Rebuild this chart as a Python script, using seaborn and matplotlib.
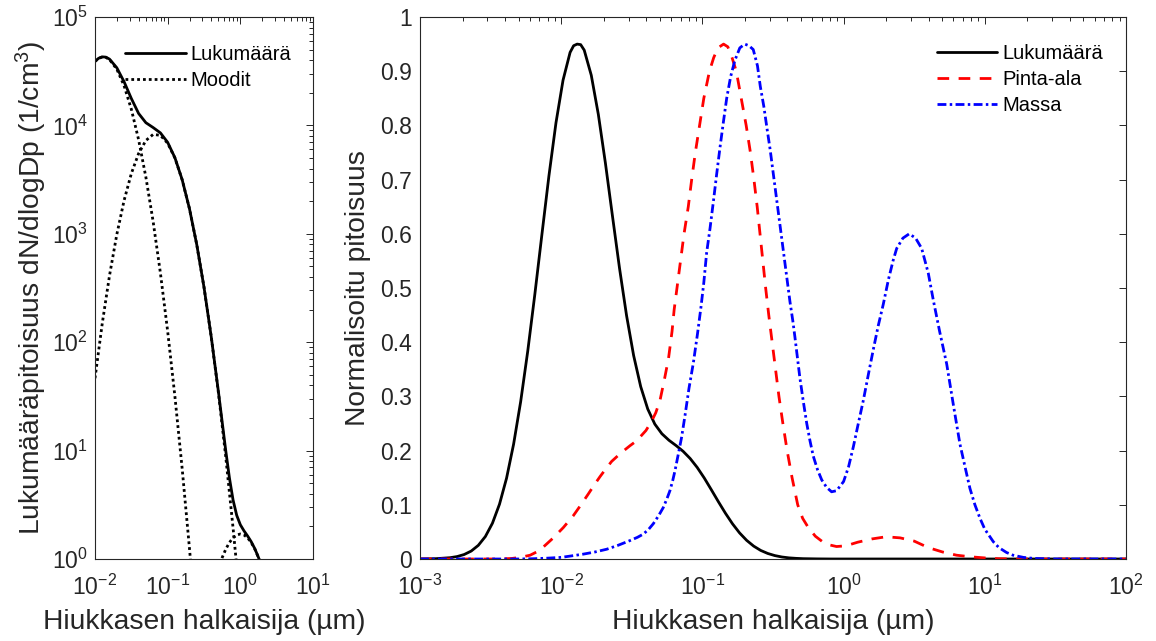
import numpy as np
import pandas as pd
import matplotlib
matplotlib.use("Agg")
import matplotlib.pyplot as plt
import seaborn as sns
from matplotlib.ticker import LogLocator, NullFormatter, FuncFormatter, MultipleLocator
from matplotlib.lines import Line2D

# ---------------- data ----------------
# Left panel: number size distribution dN/dlogDp (1/cm^3) vs log10(Dp / um)
tot_logdp = [-2.0, -1.95, -1.9, -1.85, -1.8, -1.7, -1.6, -1.5, -1.4, -1.3, -1.2, -1.1,
             -1.0, -0.9, -0.8, -0.7, -0.6, -0.5, -0.4, -0.3, -0.25, -0.2, -0.15, -0.1,
             -0.05, 0.0, 0.05, 0.1, 0.15, 0.2, 0.25, 0.3, 0.35]
tot_conc = [3.899e4, 4.163e4, 4.29e4, 4.262e4, 4.087e4, 3.402e4, 2.528e4, 1.771e4,
            1.289e4, 1.059e4, 9554, 8533, 6975, 5027, 3150, 1705, 797, 321.5, 111.7,
            34.3, 18.39, 9.9, 5.59, 3.5, 2.53, 2.07, 1.82, 1.63, 1.443, 1.242,
            1.032, 0.827, 0.636]

m1_logdp = [-2.0, -1.95, -1.9, -1.85, -1.8, -1.7, -1.6, -1.5, -1.4, -1.3, -1.2, -1.1,
            -1.0, -0.9, -0.8, -0.7, -0.65]
m1_conc = [3.894e4, 4.155e4, 4.275e4, 4.237e4, 4.046e4, 3.303e4, 2.325e4, 1.411e4,
           7386, 3333, 1298, 435.3, 126.0, 31.44, 6.77, 1.254, 0.511]

m2_logdp = [-2.0, -1.9, -1.8, -1.7, -1.6, -1.5, -1.4, -1.3, -1.2, -1.1, -1.0, -0.9,
            -0.8, -0.7, -0.6, -0.5, -0.4, -0.3, -0.2, -0.1, -0.05]
m2_conc = [46.5, 149.2, 412.9, 985.1, 2027, 3596, 5502, 7257, 8256, 8098, 6849, 4996,
           3143, 1704, 797, 321.5, 111.7, 33.5, 8.67, 1.93, 0.863]

m3_logdp = [-0.35, -0.3, -0.25, -0.2, -0.15, -0.1, -0.05, 0.0, 0.05, 0.1, 0.15, 0.2,
            0.25, 0.3, 0.35]
m3_conc = [0.636, 0.826, 1.029, 1.233, 1.419, 1.569, 1.666, 1.70, 1.666, 1.569, 1.419,
           1.233, 1.029, 0.826, 0.636]

# Right panel: normalised distributions vs log10(Dp / um)
num_logdp = [-3.0, -2.887, -2.787, -2.737, -2.687, -2.637, -2.587, -2.537, -2.487,
             -2.437, -2.387, -2.337, -2.287, -2.237, -2.187, -2.137, -2.087, -2.037,
             -1.987, -1.937, -1.912, -1.887, -1.862, -1.837, -1.787, -1.737, -1.687,
             -1.637, -1.587, -1.537, -1.487, -1.437, -1.387, -1.337, -1.287, -1.237,
             -1.187, -1.137, -1.087, -1.037, -0.987, -0.937, -0.887, -0.837, -0.787,
             -0.737, -0.687, -0.637, -0.587, -0.537, -0.487, -0.437, -0.387, -0.337,
             -0.287, -0.187, -0.087, 0.5, 1.0, 2.0]
num_norm = [0.0001, 0.0006, 0.0024, 0.0045, 0.0083, 0.0147, 0.0252, 0.0415, 0.066,
            0.1011, 0.1491, 0.212, 0.2904, 0.3834, 0.4877, 0.5979, 0.7067, 0.8048,
            0.8834, 0.9347, 0.947, 0.95, 0.949, 0.9389, 0.8925, 0.8203, 0.7306,
            0.6329, 0.5365, 0.449, 0.3754, 0.3181, 0.2767, 0.2489, 0.2311, 0.2191,
            0.2094, 0.1988, 0.1855, 0.169, 0.1495, 0.1279, 0.1058, 0.0845, 0.065,
            0.0482, 0.0345, 0.0238, 0.0158, 0.0102, 0.0063, 0.0037, 0.0021, 0.0012,
            0.0006, 0.0002, 0.0, 0.0, 0.0, 0.0]

surf_logdp = [-3.0, -2.45, -2.35, -2.29, -2.22, -2.174, -2.127, -2.06, -1.985, -1.914,
              -1.86, -1.808, -1.765, -1.725, -1.685, -1.643, -1.58, -1.513, -1.466,
              -1.40, -1.36, -1.33, -1.30, -1.27, -1.24, -1.215, -1.20, -1.175, -1.15,
              -1.13, -1.10, -1.076, -1.05, -1.02, -0.99, -0.95, -0.92, -0.89, -0.85,
              -0.82, -0.79, -0.76, -0.725, -0.69, -0.66, -0.635, -0.612, -0.592,
              -0.572, -0.552, -0.53, -0.506, -0.482, -0.458, -0.43, -0.40, -0.365,
              -0.325, -0.29, -0.25, -0.20, -0.15, -0.10, -0.05, 0.0, 0.05, 0.1, 0.2,
              0.3, 0.4, 0.5, 0.6, 0.7, 0.8, 0.9, 1.0, 1.1, 1.2, 2.0]
surf_norm = [0.0, 0.0, 0.001, 0.003, 0.007, 0.013, 0.022, 0.038, 0.058, 0.08, 0.10,
             0.12, 0.137, 0.152, 0.166, 0.18, 0.195, 0.209, 0.218, 0.237, 0.254, 0.27,
             0.293, 0.33, 0.37, 0.42, 0.46, 0.51, 0.56, 0.60, 0.65, 0.70, 0.75, 0.80,
             0.85, 0.90, 0.925, 0.943, 0.95, 0.945, 0.925, 0.90, 0.85, 0.80, 0.75,
             0.70, 0.65, 0.60, 0.55, 0.50, 0.45, 0.40, 0.35, 0.30, 0.25, 0.20, 0.15,
             0.10, 0.075, 0.058, 0.042, 0.032, 0.026, 0.023, 0.024, 0.027, 0.031,
             0.037, 0.041, 0.039, 0.033, 0.021, 0.013, 0.007, 0.004, 0.002, 0.0005,
             0.0, 0.0]

mass_logdp = [-3.0, -2.6, -2.3, -2.2, -2.1, -2.0, -1.92, -1.843, -1.76, -1.678, -1.6,
              -1.513, -1.46, -1.418, -1.38, -1.348, -1.31, -1.277, -1.25, -1.23, -1.21,
              -1.194, -1.171, -1.147, -1.123, -1.095, -1.064, -1.035, -1.01, -0.99,
              -0.97, -0.946, -0.922, -0.899, -0.875, -0.852, -0.828, -0.80, -0.77,
              -0.735, -0.70, -0.67, -0.64, -0.61, -0.59, -0.565, -0.54, -0.52, -0.50,
              -0.475, -0.45, -0.425, -0.40, -0.38, -0.36, -0.345, -0.31, -0.285,
              -0.261, -0.238, -0.215, -0.185, -0.155, -0.12, -0.085, -0.05, -0.02,
              0.0, 0.035, 0.069, 0.10, 0.14, 0.175, 0.21, 0.245, 0.281, 0.317, 0.35,
              0.376, 0.42, 0.465, 0.51, 0.553, 0.60, 0.635, 0.68, 0.73, 0.777, 0.824,
              0.86, 0.895, 0.93, 0.966, 1.0, 1.06, 1.1, 1.154, 1.2, 1.273, 1.35, 1.5,
              2.0]
mass_norm = [0.0, 0.0, 0.0, 0.0005, 0.0015, 0.003, 0.006, 0.009, 0.013, 0.018, 0.025,
             0.034, 0.04, 0.046, 0.055, 0.065, 0.08, 0.095, 0.112, 0.126, 0.145, 0.163,
             0.193, 0.225, 0.265, 0.315, 0.362, 0.415, 0.465, 0.51, 0.565, 0.61, 0.66,
             0.71, 0.76, 0.805, 0.85, 0.89, 0.92, 0.943, 0.95, 0.947, 0.94, 0.91,
             0.872, 0.835, 0.79, 0.755, 0.715, 0.665, 0.615, 0.565, 0.515, 0.475,
             0.44, 0.41, 0.335, 0.29, 0.25, 0.218, 0.19, 0.165, 0.146, 0.132, 0.124,
             0.126, 0.136, 0.143, 0.17, 0.207, 0.245, 0.293, 0.34, 0.386, 0.43, 0.47,
             0.515, 0.55, 0.573, 0.592, 0.60, 0.592, 0.573, 0.527, 0.478, 0.42, 0.36,
             0.285, 0.212, 0.17, 0.13, 0.10, 0.075, 0.055, 0.032, 0.021, 0.012, 0.007,
             0.003, 0.001, 0.0, 0.0]

left_legend = ["Lukumäärä", "Moodit"]
right_legend = ["Lukumäärä", "Pinta-ala", "Massa"]
xlabel = "Hiukkasen halkaisija (µm)"
ylabel_left = "Lukumääräpitoisuus dN/dlogDp (1/cm$^3$)"
ylabel_right = "Normalisoitu pitoisuus"

# ---------------- style ----------------
sns.set_theme(style="white")
plt.rcParams['font.family'] = ['Liberation Sans', 'DejaVu Sans']
plt.rcParams['mathtext.fontset'] = 'custom'
plt.rcParams['mathtext.rm'] = 'Liberation Sans'
plt.rcParams['mathtext.it'] = 'Liberation Sans:italic'
plt.rcParams['mathtext.bf'] = 'Liberation Sans:bold'
plt.rcParams['axes.unicode_minus'] = False

AX = '#262626'
TICK_FS = 16.5
LAB_FS = 20.3
LEG_FS = 14.5
LW = 2.0
DOT = (1.0, 1.1)
DASH = (4.2, 3.4)
DASHDOT = (3.2, 1.2, 0.9, 1.2)

fig = plt.figure(figsize=(11.56, 6.41), dpi=100)
axL = fig.add_axes([95/1156, 1-559/641, 218/1156, 542/641])
axR = fig.add_axes([420/1156, 1-559/641, 706/1156, 542/641])


def d(logs):
    return 10.0 ** np.asarray(logs, dtype=float)


def line(ax, x, y, color, dashes=None):
    sns.lineplot(x=x, y=y, ax=ax, color=color, linewidth=LW, estimator=None,
                 sort=False, legend=False)
    ln = ax.lines[-1]
    if dashes is not None:
        ln.set_dashes(dashes)
    ln.set_dash_capstyle('butt')
    return ln


# Left panel
line(axL, d(tot_logdp), tot_conc, 'black')
line(axL, d(m1_logdp), m1_conc, 'black', dashes=DOT)
line(axL, d(m2_logdp), m2_conc, 'black', dashes=DOT)
line(axL, d(m3_logdp), m3_conc, 'black', dashes=DOT)
axL.set_xscale('log')
axL.set_yscale('log')
axL.set_xlim(1e-2, 1e1)
axL.set_ylim(1e0, 1e5)

# Right panel
line(axR, d(num_logdp), num_norm, 'black')
line(axR, d(surf_logdp), surf_norm, '#ff0000', dashes=DASH)
line(axR, d(mass_logdp), mass_norm, '#0000ff', dashes=DASHDOT)
axR.set_xscale('log')
axR.set_xlim(1e-3, 1e2)
axR.set_ylim(0, 1)
axR.yaxis.set_major_locator(MultipleLocator(0.1))
axR.yaxis.set_major_formatter(FuncFormatter(
    lambda v, p: "0" if abs(v) < 1e-9 else f"{v:.1f}".rstrip('0').rstrip('.')))

for ax in (axL, axR):
    ax.set_facecolor('white')
    for s in ax.spines.values():
        s.set_color(AX)
        s.set_linewidth(0.8)
        s.set_visible(True)
    ax.tick_params(which='both', direction='in', top=True, right=True,
                   colors=AX, labelcolor=AX, width=0.7)
    ax.tick_params(which='major', length=5, labelsize=TICK_FS)
    ax.tick_params(which='minor', length=3)
    ax.tick_params(axis='x', pad=11)
    ax.xaxis.set_major_locator(LogLocator(base=10, numticks=20))
    ax.xaxis.set_minor_locator(LogLocator(base=10, subs=np.arange(2, 10), numticks=20))
    ax.xaxis.set_minor_formatter(NullFormatter())
    ax.set_xlabel(xlabel, fontsize=LAB_FS, color=AX, labelpad=7)
    ax.grid(False)

axL.yaxis.set_major_locator(LogLocator(base=10, numticks=20))
axL.yaxis.set_minor_locator(LogLocator(base=10, subs=np.arange(2, 10), numticks=20))
axL.yaxis.set_minor_formatter(NullFormatter())
axL.tick_params(axis='y', pad=5)
axR.tick_params(axis='y', pad=6)

axL.set_ylabel(ylabel_left, fontsize=LAB_FS, color=AX, labelpad=2)
axR.set_ylabel(ylabel_right, fontsize=LAB_FS, color=AX, labelpad=6)

legL = axL.legend([Line2D([], [], color='black', lw=LW),
                   Line2D([], [], color='black', lw=LW, dashes=DOT)],
                  left_legend, loc='upper left', bbox_to_anchor=(0.138, 0.948),
                  frameon=False, fontsize=LEG_FS, handlelength=3.0,
                  handletextpad=0.25, labelspacing=0.35, borderaxespad=0.0,
                  borderpad=0.0)
legR = axR.legend([Line2D([], [], color='black', lw=LW),
                   Line2D([], [], color='#ff0000', lw=LW, dashes=DASH),
                   Line2D([], [], color='#0000ff', lw=LW, dashes=DASHDOT)],
                  right_legend, loc='upper left', bbox_to_anchor=(0.732, 0.951),
                  frameon=False, fontsize=LEG_FS, handlelength=3.0,
                  handletextpad=0.25, labelspacing=0.35, borderaxespad=0.0,
                  borderpad=0.0)
for leg in (legL, legR):
    for t in leg.get_texts():
        t.set_color('black')

fig.savefig('out.png', dpi=100, facecolor='white')
